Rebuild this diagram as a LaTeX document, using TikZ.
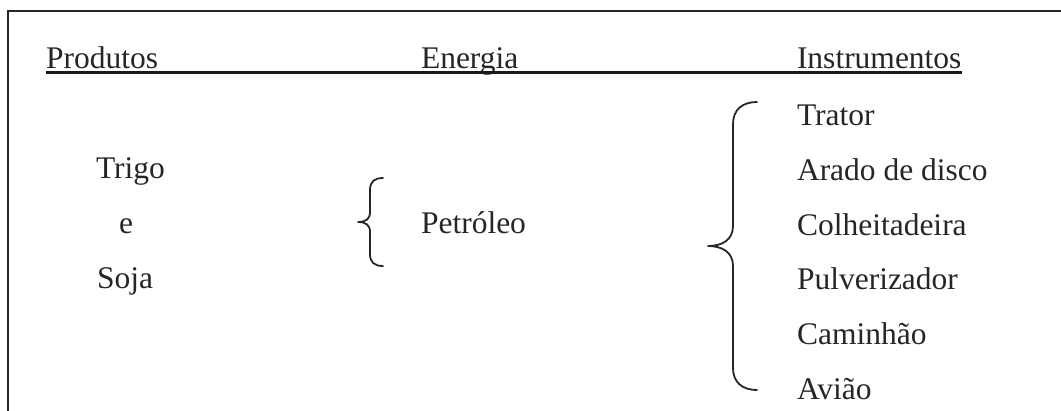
\documentclass[tikz,border=0pt]{standalone}
\usepackage{fontspec}
\setmainfont{Liberation Serif}
\tikzset{
  txt/.style={anchor=base west, inner sep=0pt, outer sep=0pt, text=black!85,
    font=\fontsize{31.5}{38}\selectfont},
  frameline/.style={line width=2.4pt, draw=black!85},
  bracepath/.style={line width=1.8pt, draw=black!85, line cap=round, line join=round},
  uline/.style={line width=2.4pt, draw=black!90}
}
\begin{document}
\begin{tikzpicture}[x=1pt, y=-1pt]
\useasboundingbox (0,0) rectangle (1061,410);
% frame
\draw[frameline] (8,412) -- (8,11) -- (1063,11);
% headers
\node[txt] (prod) at (46,68) {Produtos};
\node[txt] (ener) at (421,68) {Energia};
\node[txt] (inst) at (797,68) {Instrumentos};
\draw[uline] (46,72.5) -- (962,72.5);
% products
\node[txt] (trigo) at (96,178) {Trigo};
\node[txt] (e) at (119,233) {e};
\node[txt] (soja) at (97,288) {Soja};
% energy
\node[txt] (petr) at (421,233) {Petróleo};
% small brace
\draw[bracepath] (383,178) .. controls (374,178) and (370,182) .. (370,190)
  -- (370,212) .. controls (370,219) and (366,222) .. (358,222)
  .. controls (366,222) and (370,225) .. (370,232)
  -- (370,254) .. controls (370,262) and (374,266) .. (383,266);
% big brace
\draw[bracepath] (757,102) .. controls (742,102) and (733,110) .. (733,124)
  -- (733,226) .. controls (733,240) and (722,246) .. (708,246)
  .. controls (722,246) and (733,252) .. (733,266)
  -- (733,368) .. controls (733,382) and (742,390) .. (757,390);
% instruments
\node[txt] (i1) at (797,125) {Trator};
\node[txt] (i2) at (797,180) {Arado de disco};
\node[txt] (i3) at (797,235) {Colheitadeira};
\node[txt] (i4) at (797,289) {Pulverizador};
\node[txt] (i5) at (797,344) {Caminhão};
\node[txt] (i6) at (797,399) {Avião};
\end{tikzpicture}
\end{document}
